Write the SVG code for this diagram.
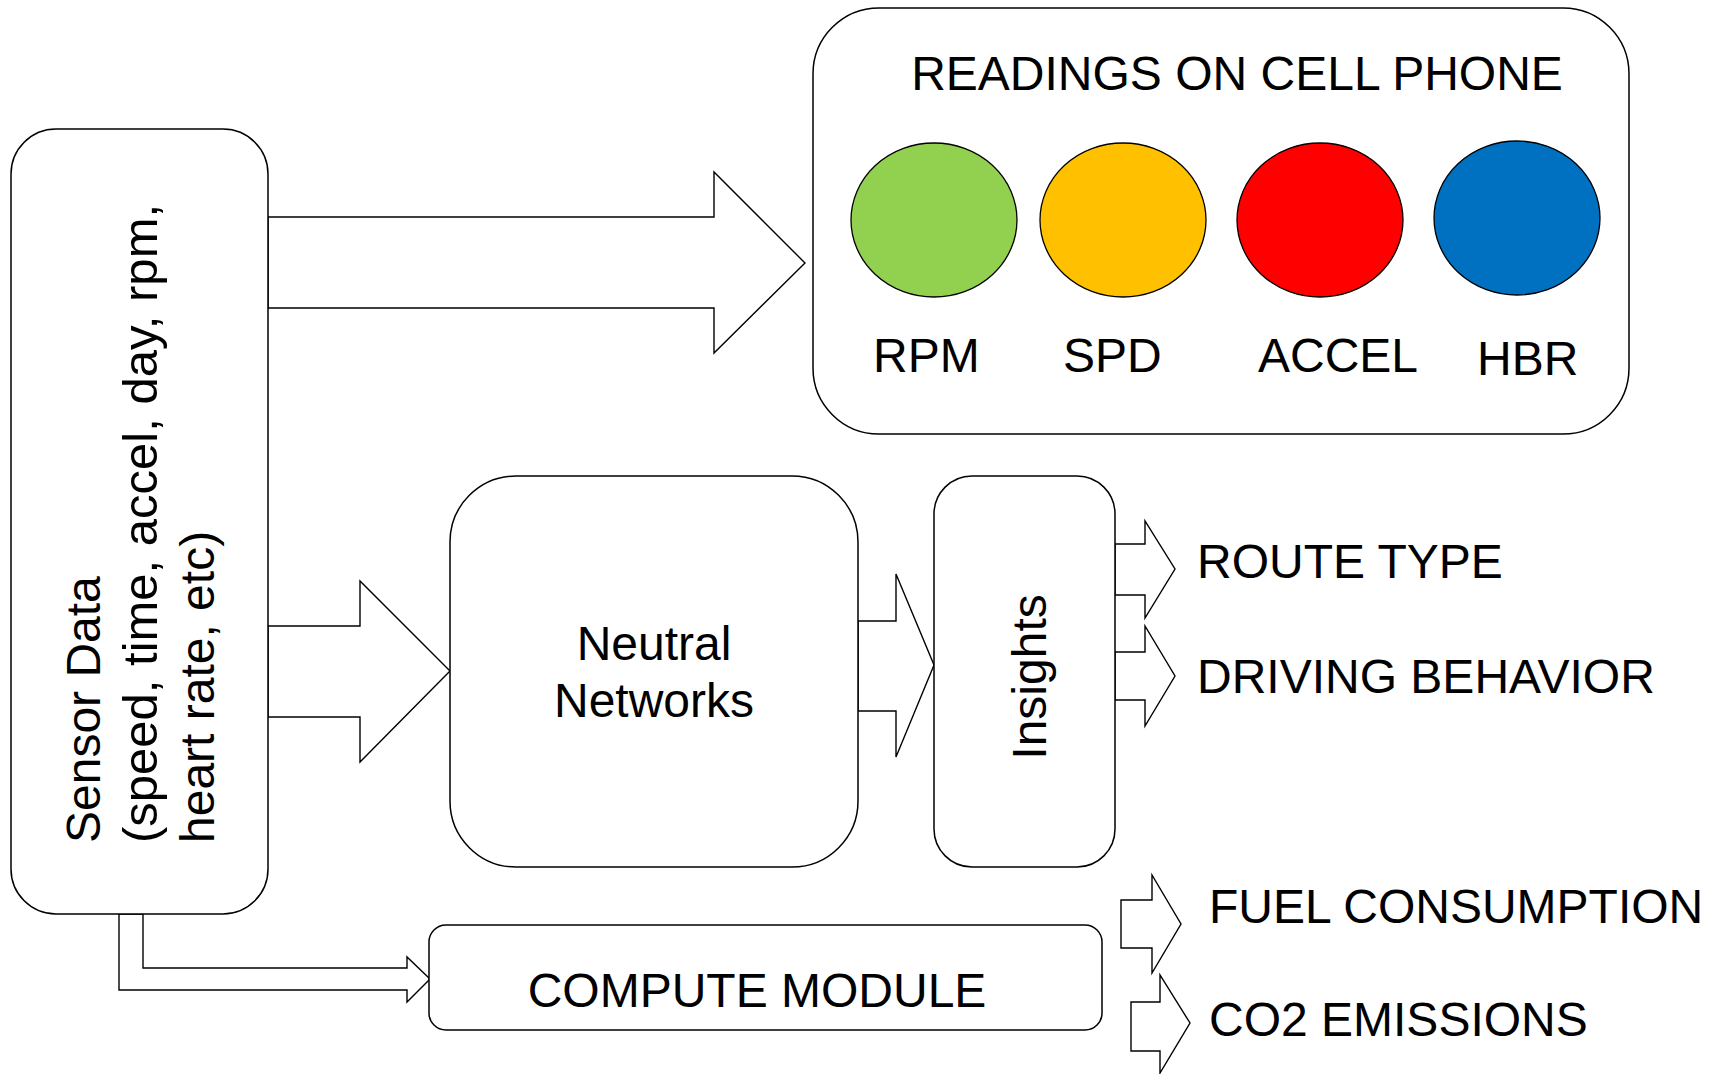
<svg xmlns="http://www.w3.org/2000/svg" width="1717" height="1074" viewBox="0 0 1717 1074">
<style>
  .box { fill: #fff; stroke: #000; stroke-width: 1.5; }
  .arr { fill: #fff; stroke: #000; stroke-width: 1.4; stroke-linejoin: miter; }
  .t { font-family: "Liberation Sans", Arial, sans-serif; font-size: 48px; fill: #000; }
  .dot { stroke: #000; stroke-width: 1.3; }
</style>
<rect x="0" y="0" width="1717" height="1074" fill="#fff"/>
<g id="connectors">
  <polygon class="arr" points="268,217 714,217 714,172 805,263 714,353 714,308 268,308"/>
  <polygon class="arr" points="268,626 360,626 360,581 450,671 360,762 360,717 268,717"/>
  <polygon class="arr" points="858,621 896,621 896,574 934,665 896,757 896,711 858,711"/>
  <polygon class="arr" points="1115,544 1145,544 1145,521 1175,569 1145,618 1145,595 1115,595"/>
  <polygon class="arr" points="1115,652 1145,652 1145,626 1175,676 1145,726 1145,700 1115,700"/>
  <polygon class="arr" points="119,914 119,990 407,990 407,1002 430,979 407,957 407,968 143,968 143,914"/>
  <polygon class="arr" points="1121,900 1152,900 1152,875 1181,924 1152,973 1152,948 1121,948"/>
  <polygon class="arr" points="1131,1002 1160,1002 1160,975 1190,1023 1160,1073 1160,1051 1131,1051"/>
</g>
<g id="sensor">
  <rect class="box" x="11" y="129" width="257" height="785" rx="45" ry="45"/>
  <g transform="translate(0,843) rotate(-90)">
    <text class="t" x="0" y="100">Sensor Data</text>
    <text class="t" x="0" y="157" style="font-size:49px">(speed, time, accel, day, rpm,</text>
    <text class="t" x="0" y="214">heart rate, etc)</text>
  </g>
</g>
<g id="phone">
  <rect class="box" x="813" y="8" width="816" height="426" rx="66" ry="66"/>
  <text class="t" x="1237" y="90" text-anchor="middle">READINGS ON CELL PHONE</text>
  <ellipse class="dot" cx="934" cy="220" rx="83" ry="77" fill="#92D050"/>
  <ellipse class="dot" cx="1123" cy="220" rx="83" ry="77" fill="#FFC000"/>
  <ellipse class="dot" cx="1320" cy="220" rx="83" ry="77" fill="#FF0000"/>
  <ellipse class="dot" cx="1517" cy="218" rx="83" ry="77" fill="#0070C0"/>
  <text class="t" x="873" y="372">RPM</text>
  <text class="t" x="1063" y="372">SPD</text>
  <text class="t" x="1258" y="372">ACCEL</text>
  <text class="t" x="1477" y="375">HBR</text>
</g>
<g id="neural">
  <rect class="box" x="450" y="476" width="408" height="391" rx="66" ry="66"/>
  <text class="t" x="654" y="660" text-anchor="middle">Neutral</text>
  <text class="t" x="654" y="717" text-anchor="middle">Networks</text>
</g>
<g id="insights">
  <rect class="box" x="934" y="476" width="181" height="391" rx="38" ry="38"/>
  <text class="t" transform="translate(1046,677) rotate(-90)" x="0" y="0" text-anchor="middle">Insights</text>
</g>
<g id="route"><text class="t" x="1197" y="578">ROUTE TYPE</text></g>
<g id="behavior"><text class="t" x="1197" y="693">DRIVING BEHAVIOR</text></g>
<g id="compute">
  <rect class="box" x="429" y="925" width="673" height="105" rx="17" ry="17"/>
  <text class="t" x="757" y="1007" text-anchor="middle">COMPUTE MODULE</text>
</g>
<g id="fuel"><text class="t" x="1209" y="923">FUEL CONSUMPTION</text></g>
<g id="co2"><text class="t" x="1209" y="1036">CO2 EMISSIONS</text></g>
</svg>
